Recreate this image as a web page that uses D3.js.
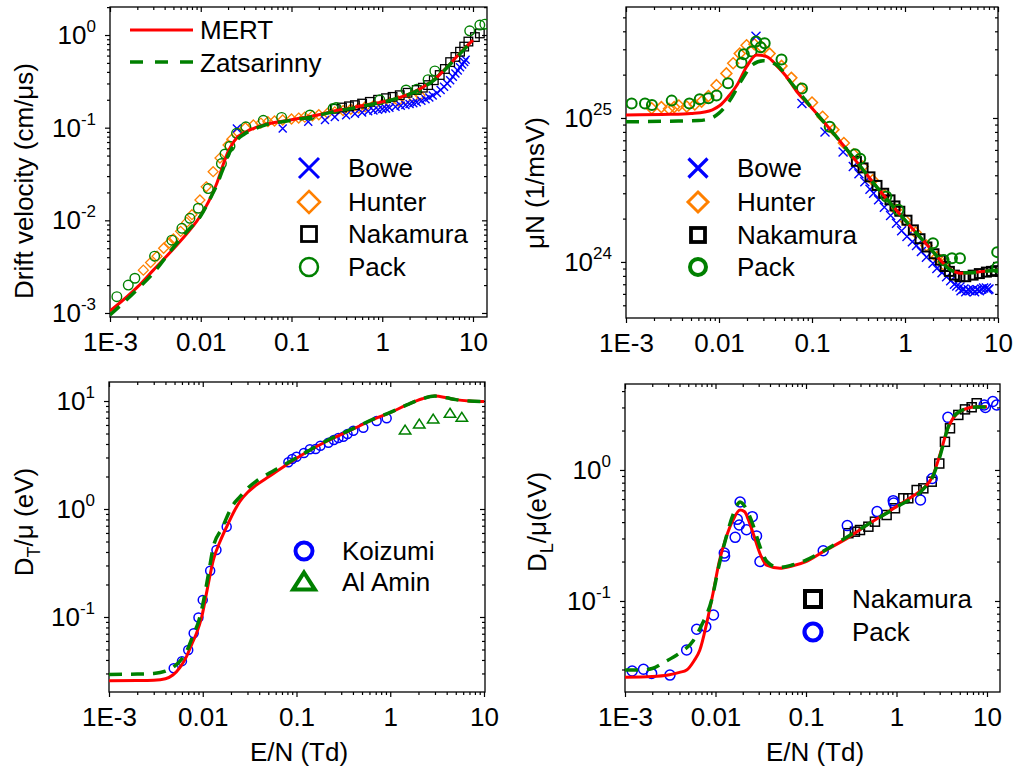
<!DOCTYPE html>
<html><head><meta charset="utf-8">
<script src="https://cdn.jsdelivr.net/npm/d3@7"></script>
<style>body{margin:0;background:#fff;} svg{display:block;}</style>
</head><body><svg id="c" width="1016" height="776"></svg>
<script>
// ---------- tick labels ----------
const xTickValues = [0.001, 0.01, 0.1, 1, 10];
const xTickLabels = ["1E-3", "0.01", "0.1", "1", "10"];

// ---------- Panel 1: drift velocity (cm/us) ----------
const p1Mert = [[0.001,0.00105],[0.002,0.0019],[0.003,0.0029],[0.0059,0.0059],[0.0098,0.011],[0.013,0.018],[0.015,0.025],[0.018,0.042],[0.02,0.055],[0.023,0.07],[0.025,0.078],[0.03,0.088],[0.04,0.1],[0.05,0.108],[0.07,0.115],[0.1,0.122],[0.2,0.138],[0.3,0.152],[0.5,0.166],[0.7,0.178],[1,0.19],[1.5,0.21],[2,0.232],[2.6,0.262],[3,0.285],[4,0.35],[5,0.435],[6,0.525],[7,0.62],[8,0.71],[10,0.88]];
const p1Zats = [[0.001,0.00095],[0.002,0.0018],[0.003,0.0027],[0.005,0.0051],[0.007,0.0075],[0.01,0.0112],[0.013,0.018],[0.015,0.024],[0.018,0.038],[0.02,0.05],[0.023,0.064],[0.025,0.073],[0.03,0.085],[0.04,0.098],[0.05,0.106],[0.07,0.114],[0.1,0.12],[0.2,0.136],[0.3,0.15],[0.5,0.164],[0.7,0.176],[1,0.188],[1.5,0.208],[2,0.23],[2.6,0.26],[3,0.283],[4,0.345],[5,0.43],[6,0.52],[7,0.61],[8,0.7],[9.5,0.83]];
const p1Bowe = [[0.025,0.098],[0.08,0.098],[0.153,0.116],[0.234,0.121],[0.3,0.13],[0.4,0.136],[0.5,0.141],[0.6,0.146],[0.7,0.15],[0.8,0.153],[0.9,0.156],[1.0,0.159],[1.1,0.161],[1.2,0.164],[1.4,0.168],[1.6,0.172],[1.8,0.176],[2.0,0.18],[2.2,0.184],[2.4,0.188],[2.7,0.195],[3.0,0.203],[3.3,0.212],[3.6,0.222],[4.0,0.237],[4.4,0.255],[4.8,0.277],[5.2,0.3],[5.6,0.325],[6.0,0.355],[6.4,0.385],[6.8,0.415],[7.2,0.45],[7.6,0.48],[8.0,0.51],[8.3,0.54]];
const p1Hunter = [[0.00233,0.0029],[0.0028,0.0035],[0.0033,0.0041],[0.0039,0.005],[0.0045,0.0057],[0.005,0.0063],[0.006,0.0076],[0.007,0.0095],[0.008,0.0115],[0.0098,0.0166],[0.0115,0.023],[0.0137,0.0335],[0.0163,0.047],[0.02,0.065],[0.022,0.075],[0.026,0.088],[0.031,0.1],[0.038,0.107],[0.046,0.112],[0.055,0.116],[0.065,0.118],[0.08,0.121],[0.1,0.124],[0.12,0.127],[0.14,0.13],[0.17,0.134],[0.2,0.138],[0.25,0.143],[0.3,0.148],[0.37,0.153],[0.45,0.158],[0.55,0.163],[0.65,0.168],[0.8,0.173],[1.0,0.18],[1.2,0.186],[1.5,0.194],[1.8,0.202],[2.2,0.212],[2.6,0.224]];
const p1Nakamura = [[0.3,0.16],[0.36,0.165],[0.43,0.17],[0.5,0.175],[0.6,0.182],[0.73,0.19],[0.9,0.2],[1.1,0.208],[1.3,0.215],[1.56,0.224],[1.9,0.238],[2.4,0.255],[2.8,0.27],[3.2,0.288],[3.7,0.325],[4.3,0.37],[4.9,0.43],[5.6,0.51],[6.4,0.58],[7.2,0.66],[8.0,0.75],[8.9,0.85],[10.5,0.95],[11.9,1.04]];
const p1Pack = [[0.00119,0.0015],[0.00159,0.002],[0.00188,0.00237],[0.0031,0.0041],[0.0048,0.0061],[0.0062,0.0082],[0.0076,0.0105],[0.0094,0.0135],[0.0121,0.022],[0.0169,0.041],[0.0185,0.052],[0.021,0.063],[0.0248,0.087],[0.0314,0.102],[0.0489,0.12],[0.0778,0.129],[0.16,0.137],[0.288,0.161],[0.31,0.165],[0.94,0.2],[1.83,0.255],[2.4,0.26],[3.2,0.33],[3.8,0.41],[9.2,1.11],[11.9,1.28],[13.5,1.31]];

// ---------- Panel 2: muN (1/msV) ----------
const p2Mert = [[0.001,1.05e25],[0.003,1.06e25],[0.005,1.075e25],[0.007,1.1e25],[0.0085,1.14e25],[0.0102,1.22e25],[0.0125,1.4e25],[0.0155,1.68e25],[0.0198,2.27e25],[0.0254,2.74e25],[0.0326,2.67e25],[0.042,2.3e25],[0.053,1.94e25],[0.07,1.5e25],[0.1,1.17e25],[0.2,6.9e24],[0.3,5.0e24],[0.5,3.3e24],[1,1.95e24],[1.5,1.45e24],[2,1.18e24],[2.5,1.0e24],[3,9.0e23],[3.5,8.5e23],[4,8.35e23],[5,8.4e23],[7,8.6e23],[10,8.75e23]];
const p2Zats = [[0.001,9.4e24],[0.003,9.5e24],[0.006,9.6e24],[0.008,9.9e24],[0.01,1.08e25],[0.0131,1.33e25],[0.018,1.89e25],[0.023,2.35e25],[0.0298,2.5e25],[0.0418,2.33e25],[0.06,1.75e25],[0.1,1.17e25],[0.2,6.9e24],[0.3,5.0e24],[0.5,3.3e24],[1,1.95e24],[1.5,1.45e24],[2,1.18e24],[2.5,1.0e24],[3,8.9e23],[4,8.4e23],[5,8.4e23],[7,8.6e23],[10,8.75e23]];
const p2Bowe = [[0.025,3.7e25],[0.078,1.26e25],[0.138,8.0e24],[0.216,5.8e24],[0.278,4.6e24],[0.32,4.1e24],[0.37,3.6e24],[0.42,3.2e24],[0.46,3.0e24],[0.52,2.7e24],[0.6,2.4e24],[0.7,2.1e24],[0.81,1.86e24],[0.92,1.65e24],[1.05,1.5e24],[1.2,1.38e24],[1.33,1.3e24],[1.5,1.18e24],[1.7,1.08e24],[2.0,9.8e23],[2.2,9.0e23],[2.5,8.4e23],[2.8,7.9e23],[3.1,7.4e23],[3.4,7.0e23],[3.6,6.8e23],[3.9,6.7e23],[4.0,6.3e23],[4.3,6.5e23],[4.5,6.2e23],[4.8,6.4e23],[5.0,6.3e23],[5.4,6.4e23],[5.6,6.2e23],[6.0,6.4e23],[6.3,6.3e23],[6.7,6.5e23],[7.0,6.6e23],[7.5,6.6e23],[7.8,6.4e23],[8.0,6.5e23]];
const p2Hunter = [[0.00189,1.17e25],[0.0024,1.19e25],[0.0029,1.16e25],[0.0033,1.19e25],[0.0037,1.22e25],[0.0045,1.2e25],[0.0055,1.24e25],[0.0065,1.3e25],[0.0077,1.42e25],[0.0094,1.69e25],[0.012,2.04e25],[0.0142,2.4e25],[0.0167,2.8e25],[0.0198,3.2e25],[0.024,3.25e25],[0.029,3.1e25],[0.035,2.8e25],[0.047,2.3e25],[0.06,1.9e25],[0.075,1.6e25],[0.1,1.28e25],[0.13,1.02e25],[0.17,8.3e24],[0.22,6.7e24],[0.28,5.6e24],[0.35,4.6e24],[0.45,3.7e24],[0.6,2.9e24],[0.8,2.3e24],[1.0,1.95e24],[1.3,1.6e24],[1.7,1.3e24],[2.2,1.08e24],[2.6,9.6e23]];
const p2Nakamura = [[0.3,5.0e24],[0.354,4.5e24],[0.42,3.9e24],[0.5,3.4e24],[0.59,3.0e24],[0.69,2.7e24],[0.78,2.45e24],[0.88,2.25e24],[1.05,1.95e24],[1.23,1.67e24],[1.45,1.45e24],[1.72,1.27e24],[2.05,1.14e24],[2.4,1.03e24],[2.7,9.3e23],[3.0,8.6e23],[3.4,8.1e23],[3.9,7.9e23],[4.5,7.9e23],[5.4,8.1e23],[6.3,8.3e23],[7.5,8.5e23],[8.5,8.6e23],[9.5,8.7e23]];
const p2Pack = [[0.00115,1.26e25],[0.0016,1.26e25],[0.0019,1.23e25],[0.0031,1.32e25],[0.0048,1.26e25],[0.0062,1.35e25],[0.0077,1.37e25],[0.0094,1.43e25],[0.0125,1.74e25],[0.0175,2.42e25],[0.0185,2.77e25],[0.0224,2.9e25],[0.025,3.4e25],[0.028,3.1e25],[0.031,3.3e25],[0.047,2.55e25],[0.078,1.6e25],[0.155,8.7e24],[0.29,5.6e24],[0.33,5.2e24],[0.63,2.85e24],[0.85,2.3e24],[2.0,1.35e24],[2.6,1.03e24],[3.2,1.06e24],[3.9,1.06e24],[9.8,1.17e24],[9.8,9.2e23]];

// ---------- Panel 3: D_T/mu (eV) ----------
const p3Mert = [[0.001,0.0257],[0.002,0.0258],[0.003,0.026],[0.004,0.0268],[0.0048,0.029],[0.0057,0.034],[0.0067,0.043],[0.0077,0.057],[0.0086,0.071],[0.00975,0.1],[0.0113,0.19],[0.013,0.34],[0.0153,0.5],[0.018,0.685],[0.022,0.98],[0.025,1.18],[0.03,1.42],[0.035,1.6],[0.04,1.74],[0.05,1.98],[0.06,2.2],[0.08,2.6],[0.1,2.95],[0.2,4.15],[0.4,5.5],[0.7,6.9],[1,7.8],[1.5,9.2],[2.2,10.5],[3,11.1],[4,10.7],[5,10.3],[7,10.0],[10,9.9]];
const p3Zats = [[0.001,0.0294],[0.002,0.0296],[0.003,0.03],[0.004,0.0315],[0.005,0.035],[0.006,0.041],[0.007,0.052],[0.008,0.07],[0.009,0.09],[0.01,0.13],[0.0115,0.25],[0.013,0.45],[0.016,0.66],[0.021,1.09],[0.025,1.3],[0.03,1.55],[0.0376,1.82],[0.05,2.12],[0.07,2.5],[0.1,2.98],[0.2,4.2],[0.4,5.55],[0.7,6.95],[1,7.85],[1.5,9.2],[2.2,10.5],[3,11.1],[4,10.7],[5,10.3],[7,10.0],[10,9.9]];
const p3Koizumi = [[0.0049,0.0335],[0.006,0.039],[0.007,0.0495],[0.008,0.0706],[0.009,0.099],[0.01,0.144],[0.012,0.268],[0.014,0.417],[0.018,0.685],[0.0819,2.71],[0.09,2.9],[0.1,3.05],[0.12,3.3],[0.139,3.57],[0.16,3.6],[0.18,3.85],[0.219,4.11],[0.25,4.35],[0.28,4.55],[0.316,4.67],[0.35,4.95],[0.404,5.3],[0.516,5.66],[0.716,6.53],[0.916,6.92]];
const p3AlAmin = [[1.44,5.38],[2.04,6.12],[2.87,6.8],[4.34,7.7],[5.8,7.06]];

// ---------- Panel 4: D_L/mu (eV) ----------
const p4Mert = [[0.001,0.0262],[0.002,0.0265],[0.003,0.0272],[0.004,0.0285],[0.0048,0.0297],[0.0058,0.035],[0.0067,0.042],[0.008,0.068],[0.0094,0.115],[0.011,0.2],[0.013,0.3],[0.0155,0.41],[0.0187,0.495],[0.021,0.48],[0.023,0.42],[0.026,0.33],[0.031,0.23],[0.0367,0.188],[0.0516,0.178],[0.07,0.185],[0.1,0.2],[0.155,0.238],[0.305,0.31],[0.5,0.39],[1,0.525],[1.5,0.63],[1.97,0.72],[2.5,0.89],[2.97,1.26],[3.7,2.08],[5.0,2.79],[7.7,3.04],[10,3.04]];
const p4Zats = [[0.001,0.0297],[0.0015,0.0297],[0.002,0.0305],[0.0027,0.034],[0.004,0.04],[0.0057,0.05],[0.007,0.065],[0.009,0.1],[0.011,0.19],[0.013,0.3],[0.0157,0.46],[0.0187,0.57],[0.022,0.5],[0.026,0.38],[0.031,0.26],[0.037,0.2],[0.05,0.18],[0.07,0.188],[0.1,0.205],[0.155,0.24],[0.3,0.315],[0.5,0.39],[1,0.52],[2,0.72],[2.5,0.88],[3,1.25],[3.7,2.1],[5,2.8],[7.7,3.02],[10,3.02]];
const p4Nakamura = [[0.294,0.329],[0.347,0.338],[0.395,0.348],[0.489,0.369],[0.578,0.403],[0.778,0.453],[0.962,0.51],[1.19,0.608],[1.35,0.608],[1.67,0.703],[1.98,0.724],[2.45,0.814],[2.97,1.12],[3.43,1.64],[3.9,2.08],[4.82,2.63],[5.71,2.9],[6.77,3.01],[7.69,3.23]];
const p4Pack = [[0.0012,0.0292],[0.0016,0.0301],[0.00197,0.028],[0.00314,0.0272],[0.0048,0.0423],[0.0062,0.0608],[0.0078,0.0637],[0.0095,0.0782],[0.0125,0.232],[0.0126,0.22],[0.0165,0.306],[0.0174,0.42],[0.0183,0.38],[0.0187,0.57],[0.022,0.35],[0.0255,0.44],[0.0284,0.314],[0.031,0.2],[0.155,0.242],[0.286,0.376],[0.61,0.481],[0.92,0.583],[0.93,0.56],[1.84,0.59],[2.48,0.86],[3.7,2.52],[9.3,3.13],[9.6,3.0],[11.6,3.33],[12.8,3.13]];

// ---------- drawing ----------
const FONT = '"Liberation Sans", Arial, Helvetica, sans-serif';
const RED = "#ff0000", GREEN = "#008000", BLUE = "#0000ff", ORANGE = "#ff8000", BLACK = "#000000";
const svg = d3.select("#c").attr("font-family", FONT);

function ticksFor(dom, mults) {
  const out = [];
  const lo = Math.floor(Math.log10(dom[0])), hi = Math.ceil(Math.log10(dom[1]));
  for (let k = lo; k <= hi; k++) for (const m of mults) {
    const v = m * Math.pow(10, k);
    if (v >= dom[0] * 0.9999 && v <= dom[1] * 1.0001) out.push(v);
  }
  return out;
}

function marker(g, type, cx, cy, s, color, sw) {
  let el;
  if (type === "circle") el = g.append("circle").attr("cx", cx).attr("cy", cy).attr("r", s);
  else if (type === "square") el = g.append("rect").attr("x", cx - s).attr("y", cy - s).attr("width", 2 * s).attr("height", 2 * s);
  else if (type === "diamond") el = g.append("path").attr("d", `M${cx},${cy - s}L${cx + s},${cy}L${cx},${cy + s}L${cx - s},${cy}Z`);
  else if (type === "cross") el = g.append("path").attr("d", `M${cx - s},${cy - s}L${cx + s},${cy + s}M${cx - s},${cy + s}L${cx + s},${cy - s}`);
  else if (type === "triangle") el = g.append("path").attr("d", `M${cx},${cy - s}L${cx + s * 1.15},${cy + s * 0.8}L${cx - s * 1.15},${cy + s * 0.8}Z`);
  el.attr("fill", "none").attr("stroke", color).attr("stroke-width", sw);
}

const panels = [
  { id: "p1", left: 110, right: 487, top: 7, bottom: 317, xd: [1e-3, 14.27], yd: [9.05e-4, 2.006],
    mert: p1Mert, zats: p1Zats,
    series: [
      { data: p1Hunter, type: "diamond", color: ORANGE, s: 5, sw: 1.3, name: "Hunter", ls: 11, lsw: 2.5 },
      { data: p1Bowe, type: "cross", color: BLUE, s: 4, sw: 1.4, name: "Bowe", ls: 10, lsw: 3 },
      { data: p1Nakamura, type: "square", color: BLACK, s: 4.3, sw: 1.3, name: "Nakamura", ls: 7.5, lsw: 2.8 },
      { data: p1Pack, type: "circle", color: GREEN, s: 4.8, sw: 1.4, name: "Pack", ls: 9, lsw: 2.5 }
    ],
    legendOrder: ["Bowe", "Hunter", "Nakamura", "Pack"], legX: 309, legTX: 348, legY: [168, 202, 234, 267],
    lineLegend: true, ylabel: [{ t: "Drift velocity (cm/\u03bcs)" }], ylx: 33, yly: 181, xlabel: false },
  { id: "p2", left: 626, right: 998, top: 7, bottom: 318, xd: [1e-3, 10], yd: [4.08e23, 5.9e25],
    mert: p2Mert, zats: p2Zats,
    series: [
      { data: p2Hunter, type: "diamond", color: ORANGE, s: 5.5, sw: 1.5, name: "Hunter", ls: 10, lsw: 3 },
      { data: p2Bowe, type: "cross", color: BLUE, s: 4.5, sw: 1.4, name: "Bowe", ls: 9.5, lsw: 3.2 },
      { data: p2Nakamura, type: "square", color: BLACK, s: 4.5, sw: 2, name: "Nakamura", ls: 7, lsw: 3.8 },
      { data: p2Pack, type: "circle", color: GREEN, s: 5, sw: 2, name: "Pack", ls: 8, lsw: 4 }
    ],
    legendOrder: ["Bowe", "Hunter", "Nakamura", "Pack"], legX: 698, legTX: 737, legY: [168, 202, 235, 267],
    lineLegend: false, ylabel: [{ t: "\u03bcN (1/msV)" }], ylx: 544, yly: 183, xlabel: false },
  { id: "p3", left: 109, right: 485, top: 382, bottom: 692, xd: [1e-3, 10.25], yd: [0.0202, 15.0],
    mert: p3Mert, zats: p3Zats,
    series: [
      { data: p3Koizumi, type: "circle", color: BLUE, s: 4.5, sw: 1.5, name: "Koizumi", ls: 8.5, lsw: 4 },
      { data: p3AlAmin, type: "triangle", color: GREEN, s: 5, sw: 1.5, name: "Al Amin", ls: 9.5, lsw: 4 }
    ],
    legendOrder: ["Koizumi", "Al Amin"], legX: 304, legTX: 342, legY: [551, 582],
    lineLegend: false, ylabel: [{ t: "D" }, { t: "T", sub: true }, { t: "/\u03bc (eV)" }], ylx: 33, yly: 522, xlabel: true, xlx: 299 },
  { id: "p4", left: 625, right: 1000, top: 384, bottom: 692, xd: [1e-3, 13.92], yd: [0.0202, 4.53],
    mert: p4Mert, zats: p4Zats,
    series: [
      { data: p4Nakamura, type: "square", color: BLACK, s: 4.5, sw: 1.5, name: "Nakamura", ls: 8, lsw: 4 },
      { data: p4Pack, type: "circle", color: BLUE, s: 5, sw: 1.5, name: "Pack", ls: 8.5, lsw: 4.2 }
    ],
    legendOrder: ["Nakamura", "Pack"], legX: 813, legTX: 852, legY: [599, 632],
    lineLegend: false, ylabel: [{ t: "D" }, { t: "L", sub: true }, { t: "/\u03bc(eV)" }], ylx: 546, yly: 522, xlabel: true, xlx: 815 }
];

panels.forEach(p => {
  const x = d3.scaleLog().domain(p.xd).range([p.left, p.right]);
  const y = d3.scaleLog().domain(p.yd).range([p.bottom, p.top]);
  const g = svg.append("g").attr("id", p.id);

  g.append("clipPath").attr("id", "clip-" + p.id).append("rect")
    .attr("x", p.left).attr("y", p.top).attr("width", p.right - p.left).attr("height", p.bottom - p.top);

  const xMaj = ticksFor(p.xd, [1]), xMin = ticksFor(p.xd, [2, 3, 4, 5, 6, 7, 8, 9]);
  const yMaj = ticksFor(p.yd, [1]), yMin = ticksFor(p.yd, [2, 3, 4, 5, 6, 7, 8, 9]);

  const styleAxis = sel => { sel.select(".domain").remove(); sel.selectAll("line").attr("stroke", "#000").attr("stroke-width", 1.2); };

  // bottom (outward)
  g.append("g").attr("transform", `translate(0,${p.bottom})`)
    .call(d3.axisBottom(x).tickValues(xMin).tickSize(3).tickFormat("")).call(styleAxis);
  const bx = g.append("g").attr("transform", `translate(0,${p.bottom})`)
    .call(d3.axisBottom(x).tickValues(xTickValues).tickSize(5).tickFormat((d, i) => xTickLabels[i])).call(styleAxis);
  bx.selectAll("text").attr("y", 34).attr("dy", null).attr("font-size", 26).attr("font-family", FONT).attr("fill", "#000");
  // top (inward)
  g.append("g").attr("transform", `translate(0,${p.top})`)
    .call(d3.axisTop(x).tickValues(xMin).tickSize(-3).tickFormat("")).call(styleAxis);
  g.append("g").attr("transform", `translate(0,${p.top})`)
    .call(d3.axisTop(x).tickValues(xMaj).tickSize(-5).tickFormat("")).call(styleAxis);
  // left (outward)
  g.append("g").attr("transform", `translate(${p.left},0)`)
    .call(d3.axisLeft(y).tickValues(yMin).tickSize(3).tickFormat("")).call(styleAxis);
  g.append("g").attr("transform", `translate(${p.left},0)`)
    .call(d3.axisLeft(y).tickValues(yMaj).tickSize(5).tickFormat("")).call(styleAxis);
  // right (inward)
  g.append("g").attr("transform", `translate(${p.right},0)`)
    .call(d3.axisRight(y).tickValues(yMin).tickSize(-3).tickFormat("")).call(styleAxis);
  g.append("g").attr("transform", `translate(${p.right},0)`)
    .call(d3.axisRight(y).tickValues(yMaj).tickSize(-5).tickFormat("")).call(styleAxis);

  // y tick labels with superscript exponents
  yMaj.forEach(v => {
    const e = Math.round(Math.log10(v));
    const t = g.append("text").attr("x", p.left - 14).attr("y", y(v) + 9)
      .attr("text-anchor", "end").attr("font-size", 26).attr("fill", "#000");
    t.append("tspan").text("10");
    t.append("tspan").attr("dy", -12).attr("font-size", 17).text(String(e));
  });

  // frame
  g.append("rect").attr("x", p.left).attr("y", p.top).attr("width", p.right - p.left).attr("height", p.bottom - p.top)
    .attr("fill", "none").attr("stroke", "#000").attr("stroke-width", 1.3);

  // data
  const dg = g.append("g").attr("clip-path", `url(#clip-${p.id})`);
  p.series.forEach(s => {
    s.data.forEach(d => marker(dg, s.type, x(d[0]), y(d[1]), s.s, s.color, s.sw));
  });
  const line = d3.line().x(d => x(d[0])).y(d => y(d[1])).curve(d3.curveMonotoneX);
  dg.append("path").datum(p.mert).attr("d", line).attr("fill", "none").attr("stroke", RED).attr("stroke-width", 3);
  dg.append("path").datum(p.zats).attr("d", line).attr("fill", "none").attr("stroke", GREEN).attr("stroke-width", 3.5)
    .attr("stroke-dasharray", "13,9");

  // marker legend
  p.legendOrder.forEach((name, i) => {
    const s = p.series.find(q => q.name === name);
    marker(g, s.type, p.legX, p.legY[i], s.ls, s.color, s.lsw);
    g.append("text").attr("x", p.legTX).attr("y", p.legY[i] + 9).attr("font-size", 26).attr("fill", "#000").text(name);
  });

  // line legend (panel 1)
  if (p.lineLegend) {
    g.append("line").attr("x1", 130).attr("x2", 193).attr("y1", 30).attr("y2", 30).attr("stroke", RED).attr("stroke-width", 3);
    g.append("text").attr("x", 200).attr("y", 39).attr("font-size", 26).text("MERT");
    g.append("line").attr("x1", 130).attr("x2", 193).attr("y1", 62).attr("y2", 62).attr("stroke", GREEN).attr("stroke-width", 3.5)
      .attr("stroke-dasharray", "13,12");
    g.append("text").attr("x", 200).attr("y", 72).attr("font-size", 26).text("Zatsarinny");
  }

  // y axis title
  const yt = g.append("text").attr("transform", `translate(${p.ylx},${p.yly}) rotate(-90)`)
    .attr("text-anchor", "middle").attr("font-size", 26).attr("fill", "#000");
  p.ylabel.forEach(part => {
    const ts = yt.append("tspan").text(part.t);
    if (part.sub) ts.attr("font-size", 18).attr("dy", 7);
    else if (yt.selectAll("tspan").size() > 1) ts.attr("dy", -7);
  });

  if (p.xlabel) {
    g.append("text").attr("x", p.xlx).attr("y", 761).attr("text-anchor", "middle").attr("font-size", 26).text("E/N (Td)");
  }
});
</script>
</body></html>
